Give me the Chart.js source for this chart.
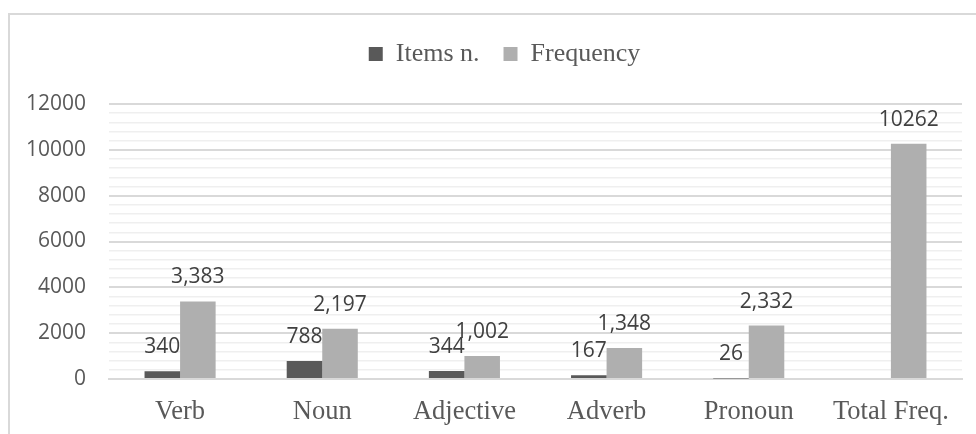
<!DOCTYPE html>
<html>
<head>
<meta charset="utf-8">
<script src="https://cdn.jsdelivr.net/npm/chart.js@4.4.1/dist/chart.umd.min.js"></script>
<style>
  html, body { margin: 0; padding: 0; background: #fff; }
  #wrap { width: 976px; height: 434px; position: relative; }
</style>
</head>
<body>
<div id="wrap"><canvas id="chart"></canvas></div>
<script>
const categories = ['Verb', 'Noun', 'Adjective', 'Adverb', 'Pronoun', 'Total Freq.'];
const itemsN = [340, 788, 344, 167, 26, null];
const frequency = [3383, 2197, 1002, 1348, 2332, 10262];
const yTicks = [0, 2000, 4000, 6000, 8000, 10000, 12000];

const SANS = '"Open Sans", "Liberation Sans", sans-serif';
const SERIF = '"Liberation Serif", "Times New Roman", serif';

// label text like the source: thousands separator, except the total
function fmt(v, i) {
  if (categories[i] === 'Total Freq.') return String(v);
  return v.toLocaleString('en-US');
}

const frame = {
  id: 'frame',
  beforeDraw(chart) {
    const ctx = chart.ctx;
    ctx.save();
    ctx.fillStyle = '#fff';
    ctx.fillRect(0, 0, chart.width, chart.height);
    ctx.strokeStyle = '#d9d9d9';
    ctx.lineWidth = 2;
    ctx.beginPath();
    ctx.moveTo(9, chart.height);
    ctx.lineTo(9, 14);
    ctx.lineTo(chart.width, 14);
    ctx.stroke();
    ctx.restore();
  }
};

const barLabels = {
  id: 'barLabels',
  afterDatasetsDraw(chart) {
    const ctx = chart.ctx;
    ctx.save();
    ctx.font = '21px ' + SANS;
    ctx.fillStyle = '#404040';
    ctx.textAlign = 'center';
    ctx.textBaseline = 'middle';
    chart.data.datasets.forEach((ds, di) => {
      chart.getDatasetMeta(di).data.forEach((bar, i) => {
        const v = ds.data[i];
        if (v === null || v === undefined) return;
        ctx.fillText(fmt(v, i), bar.x, bar.y - 24);
      });
    });
    ctx.restore();
  }
};

// fixed legend band height, and the legend sits a bit right of centre
const legendSpace = {
  id: 'legendSpace',
  beforeInit(chart) {
    const fit = chart.legend.fit;
    chart.legend.fit = function () {
      fit.bind(chart.legend)();
      this.height = 87;
    };
  },
  afterLayout(chart) {
    chart.legend.left += 19;
    chart.legend.right += 19;
  }
};

new Chart(document.getElementById('chart'), {
  type: 'bar',
  data: {
    labels: categories,
    datasets: [
      { label: 'Items n.', data: itemsN, backgroundColor: '#595959' },
      { label: 'Frequency', data: frequency, backgroundColor: '#afafaf' }
    ]
  },
  options: {
    responsive: true,
    maintainAspectRatio: false,
    animation: false,
    categoryPercentage: 0.5,
    barPercentage: 1.0,
    layout: { padding: { top: 17, left: 9, right: 14, bottom: 0 } },
    plugins: {
      tooltip: { enabled: false },
      legend: {
        position: 'top',
        labels: {
          boxWidth: 14,
          boxHeight: 14,
          padding: 24,
          color: '#595959',
          font: { family: SERIF, size: 26 }
        }
      }
    },
    scales: {
      x: {
        grid: { display: false, drawTicks: false },
        border: { display: true, color: '#d9d9d9', width: 2 },
        ticks: { color: '#595959', padding: 17, font: { family: SERIF, size: 26.5 } },
        afterFit(scale) { scale.height = 55; }
      },
      y: {
        min: yTicks[0],
        max: yTicks[yTicks.length - 1],
        border: { display: false },
        grid: {
          drawTicks: false,
          color: c => (yTicks.includes(c.tick.value) ? '#d9d9d9' : '#efefef'),
          lineWidth: c => (yTicks.includes(c.tick.value) ? 2 : 1.5)
        },
        ticks: {
          stepSize: 400,
          autoSkip: false,
          padding: 23,
          color: '#595959',
          font: { family: SANS, size: 21 },
          callback: v => (yTicks.includes(v) ? String(v) : '')
        },
        afterFit(scale) { scale.width = 100; }
      }
    }
  },
  plugins: [frame, barLabels, legendSpace]
});
</script>
</body>
</html>
